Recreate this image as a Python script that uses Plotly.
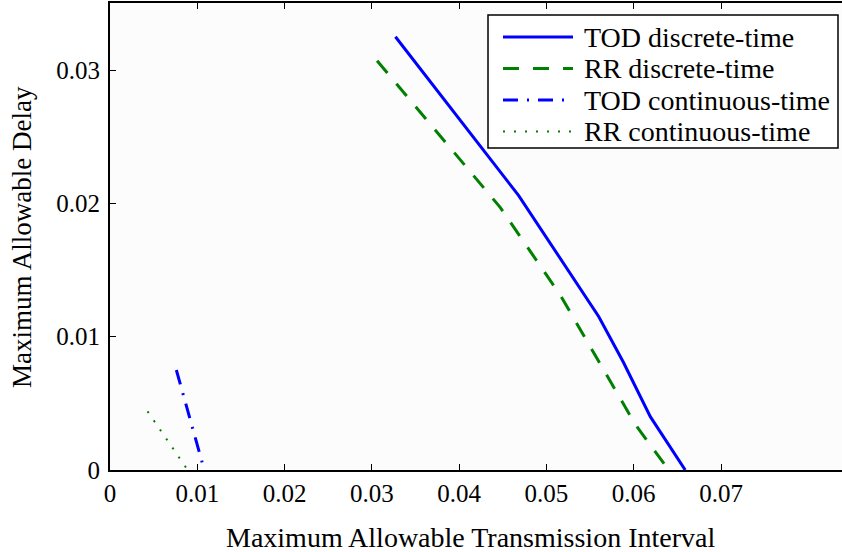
import plotly.graph_objects as go

# --- data ---
tod_dt_x = [0.0327, 0.0468, 0.0560, 0.0588, 0.0619, 0.0659]
tod_dt_y = [0.0325, 0.0206, 0.0115, 0.0081, 0.0040, 0.0]

rr_dt_x = [0.0306, 0.0447, 0.0516, 0.0575, 0.0602, 0.0640]
rr_dt_y = [0.0307, 0.0197, 0.0131, 0.0065, 0.0034, 0.0]

tod_ct_x = [0.0076, 0.0108]
tod_ct_y = [0.0075, 0.0]

rr_ct_x = [0.0043, 0.0089]
rr_ct_y = [0.0044, 0.0]

names = ["TOD discrete-time", "RR discrete-time", "TOD continuous-time", "RR continuous-time"]
x_ticks = [0, 0.01, 0.02, 0.03, 0.04, 0.05, 0.06, 0.07]
x_tick_text = ["0", "0.01", "0.02", "0.03", "0.04", "0.05", "0.06", "0.07"]
y_ticks = [0, 0.01, 0.02, 0.03]
y_tick_text = ["0", "0.01", "0.02", "0.03"]
x_title = "Maximum Allowable Transmission Interval"
y_title = "Maximum Allowable Delay"

FONT = "Liberation Serif"
BLUE = "#0000ff"
GREEN = "#008000"

W, H = 842, 552
ML, MR, MT, MB = 110, 0, 3, 82
PW, PH = W - ML - MR, H - MT - MB

def px_x(p):
    return (p - ML) / PW

def px_y(p):
    return (H - MB - p) / PH

styles = [
    dict(color=BLUE, width=3, dash="solid"),
    dict(color=GREEN, width=3, dash="16px,14px"),
    dict(color=BLUE, width=3, dash="15px,9px,2px,9px"),
    dict(color=GREEN, width=2, dash="2px,9px"),
]
series = [(tod_dt_x, tod_dt_y), (rr_dt_x, rr_dt_y), (tod_ct_x, tod_ct_y), (rr_ct_x, rr_ct_y)]

fig = go.Figure()
for (xs, ys), nm, st in zip(series, names, styles):
    fig.add_trace(go.Scatter(x=xs, y=ys, mode="lines", name=nm, line=st, showlegend=False))

# legend box (boxed key in paper coordinates)
shapes = [dict(type="rect", xref="paper", yref="paper",
               x0=px_x(488), x1=px_x(838), y0=px_y(148), y1=px_y(15),
               line=dict(color="black", width=1.5), fillcolor="white", layer="above")]
annotations = []
row_y = [37, 68.5, 100, 131.5]
for ry, nm, st in zip(row_y, names, styles):
    shapes.append(dict(type="line", xref="paper", yref="paper",
                       x0=px_x(503), x1=px_x(573), y0=px_y(ry), y1=px_y(ry),
                       line=st, layer="above"))
    annotations.append(dict(text=nm, xref="paper", yref="paper",
                            x=px_x(582), y=px_y(ry), xanchor="left", yanchor="middle",
                            showarrow=False, font=dict(family=FONT, size=28, color="black")))

# axis titles
annotations.append(dict(text=x_title, xref="paper", yref="paper",
                        x=px_x(470), y=px_y(537), xanchor="center", yanchor="middle",
                        showarrow=False, font=dict(family=FONT, size=28, color="black")))
annotations.append(dict(text=y_title, xref="paper", yref="paper",
                        x=px_x(22), y=px_y(237), xanchor="center", yanchor="middle",
                        textangle=-90,
                        showarrow=False, font=dict(family=FONT, size=27, color="black")))

fig.update_layout(
    width=W, height=H,
    margin=dict(l=ML, r=MR, t=MT, b=MB),
    paper_bgcolor="white",
    plot_bgcolor="#fcfcfc",
    font=dict(family=FONT, size=25, color="black"),
    showlegend=False,
    shapes=shapes,
    annotations=annotations,
)

fig.update_xaxes(
    range=[0, 0.08386], tickvals=x_ticks, ticktext=x_tick_text,
    showgrid=False, zeroline=False,
    showline=True, linecolor="black", linewidth=2, mirror="ticks",
    ticks="inside", ticklen=6, tickwidth=1.2, tickcolor="black",
    tickfont=dict(family=FONT, size=25),
)
fig.update_yaxes(
    range=[0, 0.03503], tickvals=y_ticks, ticktext=y_tick_text,
    showgrid=False, zeroline=False,
    showline=True, linecolor="black", linewidth=2, mirror=False,
    ticks="inside", ticklen=6, tickwidth=1.2, tickcolor="black",
    tickfont=dict(family=FONT, size=25), ticklabelstandoff=3,
)

fig.write_html("out.html")
